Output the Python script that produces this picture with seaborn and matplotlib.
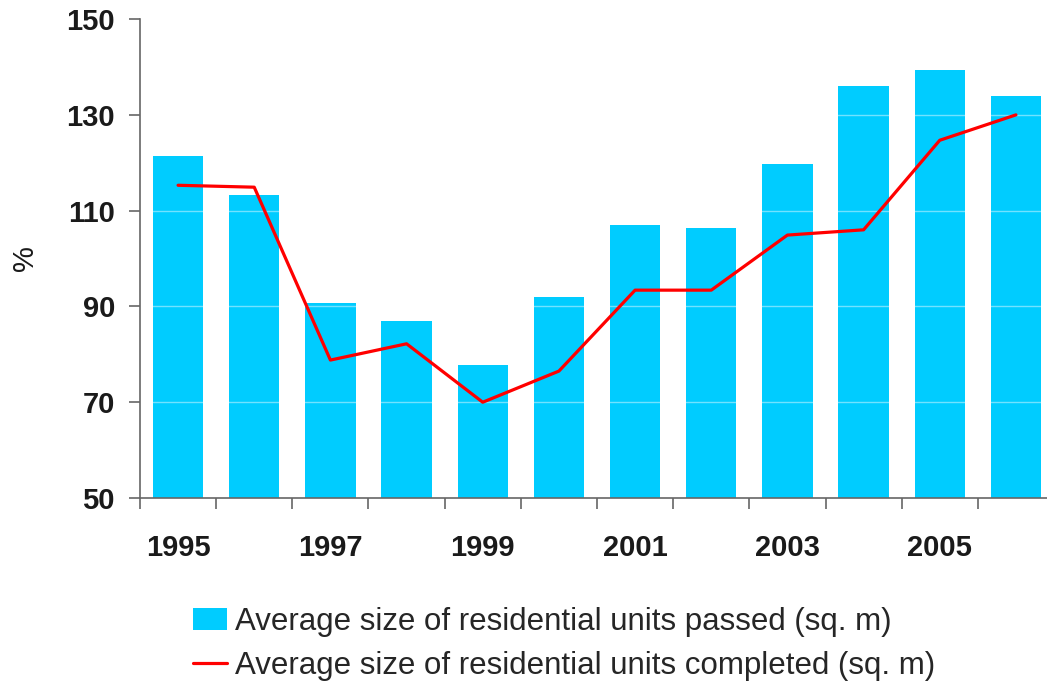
import matplotlib
matplotlib.use("Agg")
import matplotlib.pyplot as plt
import seaborn as sns
import pandas as pd
import numpy as np
from matplotlib.patches import Patch
from matplotlib.lines import Line2D

years = ["1995", "1996", "1997", "1998", "1999", "2000", "2001", "2002", "2003", "2004", "2005", "2006"]
passed = [121.4, 113.3, 90.7, 87.0, 77.8, 92.0, 107.0, 106.4, 119.7, 136.0, 139.4, 133.9]
completed = [115.3, 114.9, 78.8, 82.2, 70.0, 76.5, 93.4, 93.4, 104.9, 106.0, 124.7, 130.0]
yticks = [50, 70, 90, 110, 130, 150]
label_years = ["1995", "1997", "1999", "2001", "2003", "2005"]
bar_label = "Average size of residential units passed (sq. m)"
line_label = "Average size of residential units completed (sq. m)"

sns.set_theme(style="white")
plt.rcParams['font.family'] = ['Liberation Sans', 'DejaVu Sans']

df = pd.DataFrame({"year": years, "passed": passed, "completed": completed, "idx": np.arange(len(years))})

fig = plt.figure(figsize=(10.47, 6.82), dpi=100)
ax = fig.add_axes([0.1337, 0.2698, 0.873, 0.7022])

sns.barplot(data=df, x="year", y="passed", color="#00CCFF", saturation=1, width=0.66, ax=ax, zorder=1)
for p in ax.patches:
    p.set_edgecolor("none")
sns.lineplot(data=df, x="idx", y="completed", color="#FF0000", linewidth=2.3, ax=ax, zorder=3)

ax.set_ylim(50, 150)
ax.set_xlim(-0.5, 11.5)
ax.set_yticks(yticks)
ax.set_yticklabels([str(v) for v in yticks], fontsize=21, fontweight="bold", color="#1a1a1a")
for v in yticks[1:-1]:
    ax.axhline(v, color="white", alpha=0.45, linewidth=1, zorder=2)

major_pos = [years.index(y) for y in label_years]
ax.set_xticks(major_pos)
ax.set_xticklabels(label_years, fontsize=21, fontweight="bold", color="#1a1a1a")
ax.set_xticks(np.arange(-0.5, 11.6, 1.0), minor=True)
ax.tick_params(axis="x", which="major", length=0, pad=26)
ax.tick_params(axis="x", which="minor", length=8, width=1.2, color="#666666", direction="out", bottom=True)
ax.tick_params(axis="y", which="major", length=8, width=1.2, color="#666666", direction="out", left=True, pad=10)

ax.set_xlabel("")
ax.set_ylabel("%", fontsize=21, color="#1a1a1a")
ax.yaxis.set_label_coords(-0.11, 0.5)
for s in ["top", "right"]:
    ax.spines[s].set_visible(False)
for s in ["left", "bottom"]:
    ax.spines[s].set_color("#666666")
    ax.spines[s].set_linewidth(1.2)
if ax.get_legend() is not None:
    ax.get_legend().remove()

handles = [Patch(facecolor="#00CCFF", edgecolor="none", label=bar_label),
           Line2D([0], [0], color="#FF0000", linewidth=2.3, label=line_label)]
fig.legend(handles=handles, loc="upper left", bbox_to_anchor=(0.172, 0.128), frameon=False,
           fontsize=22.5, handlelength=1.1, handletextpad=0.25, labelspacing=0.45, borderaxespad=0)

fig.savefig("out.png", dpi=100)
